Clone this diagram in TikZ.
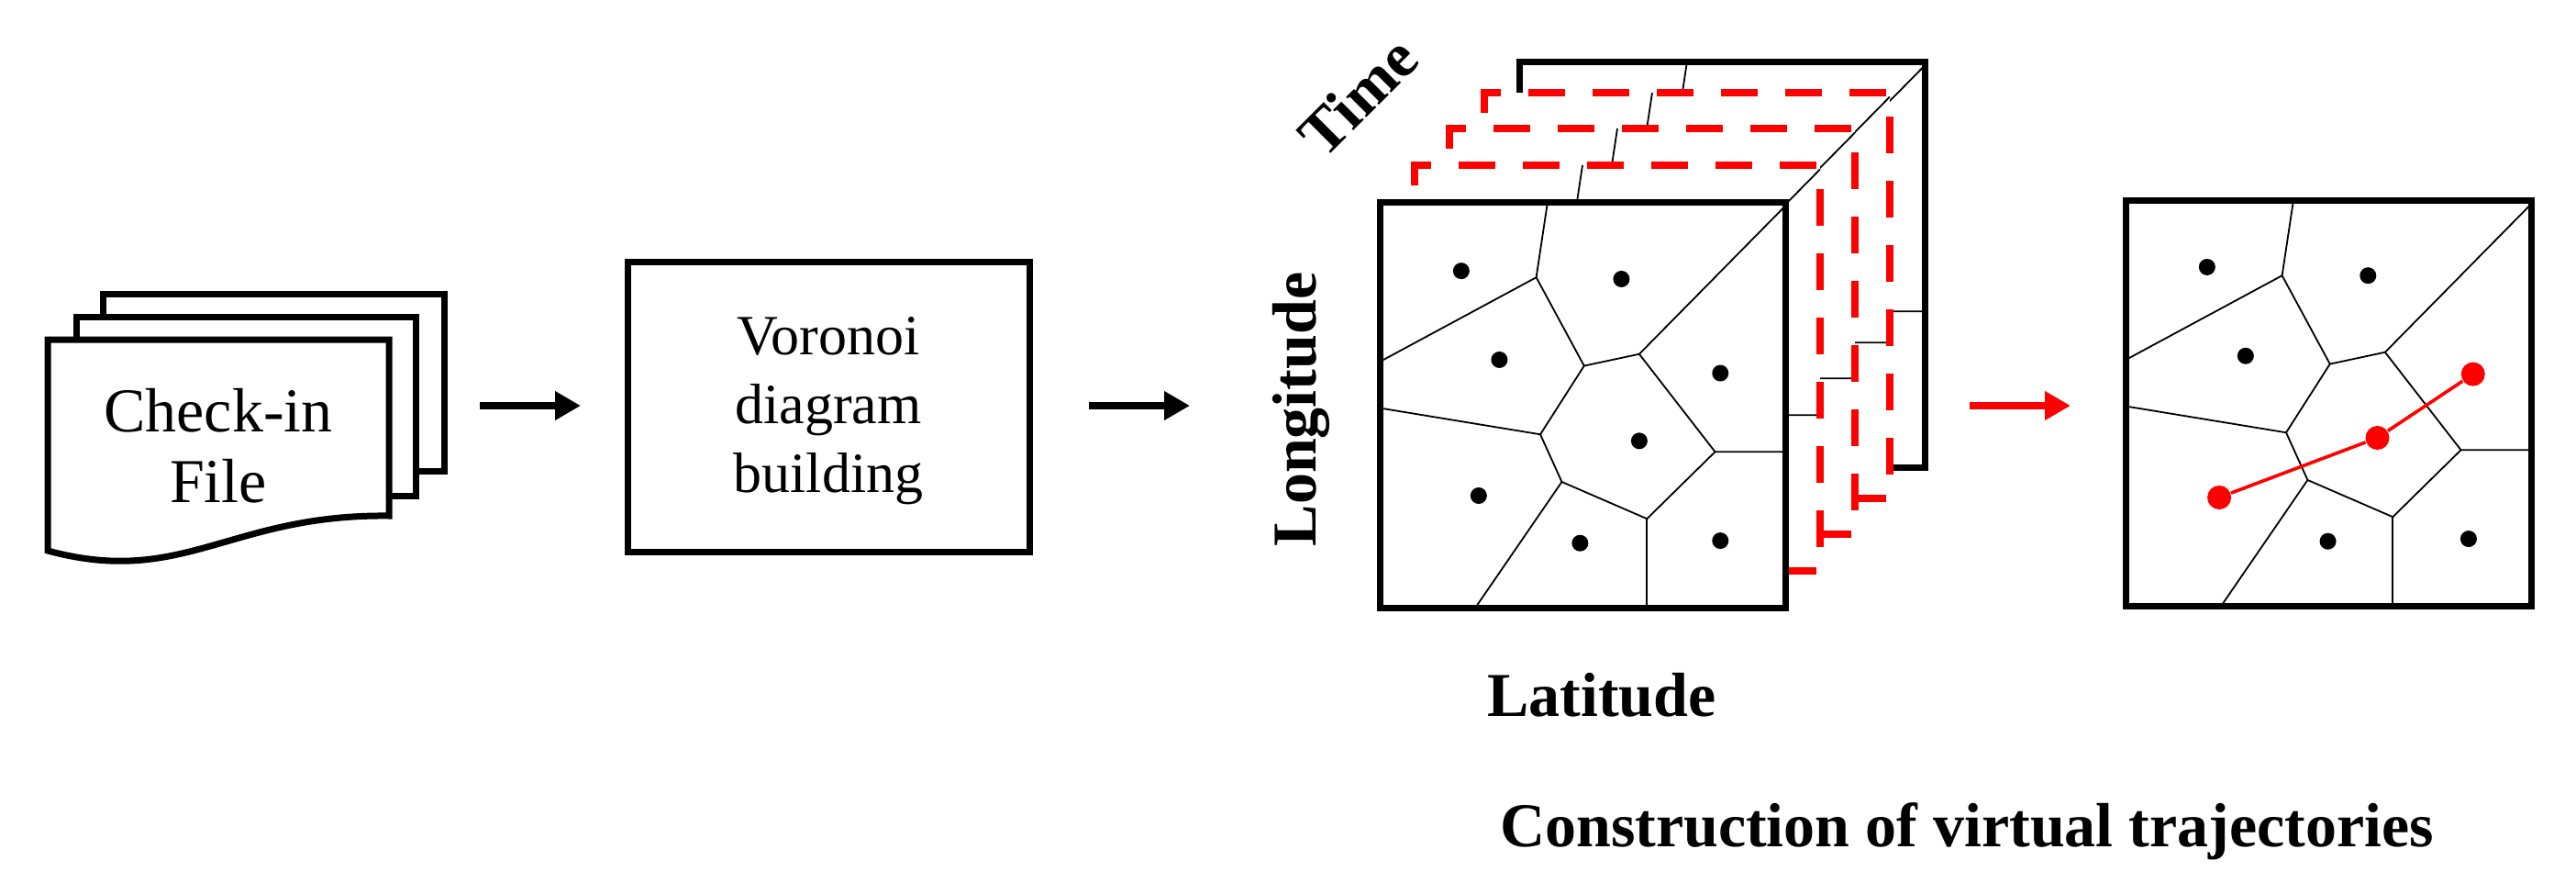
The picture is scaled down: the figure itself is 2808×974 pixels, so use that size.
\documentclass[tikz,border=0pt]{standalone}
\usepackage{fontspec}
\setmainfont{Liberation Serif}
\usetikzlibrary{arrows.meta}
\newcommand\vorlines{%
  \draw[vor] (0.414,0)--(0.386,0.186)--(0,0.394);
  \draw[vor] (0.386,0.186)--(0.504,0.404)--(0.640,0.375)--(1,0.01);
  \draw[vor] (0.640,0.375)--(0.827,0.616)--(1,0.616);
  \draw[vor] (0.504,0.404)--(0.396,0.573)--(0,0.508);
  \draw[vor] (0.396,0.573)--(0.449,0.69)--(0.659,0.781)--(0.827,0.616);
  \draw[vor] (0.449,0.69)--(0.236,1);
  \draw[vor] (0.659,0.781)--(0.659,1);}
\newcommand\vorlayer[3]{%
  \begin{scope}[shift={(#1,#2)},x=110.5pt,y=-110.5pt]
    \fill[white] (0,0) rectangle (1,1);
    \vorlines
    \draw[#3] (0,1) rectangle (1,0);
  \end{scope}}
\tikzset{
  vor/.style={line width=0.45pt},
  thickb/.style={line width=1.75pt},
  reddash/.style={red, line width=2pt, dash pattern=on 10pt off 7.5pt},
  arr/.style={line width=2pt,-{Triangle[length=7pt,width=7.5pt]}},
  dot/.style={circle, fill=black, inner sep=0pt, minimum size=4.5pt},
  rdot/.style={circle, fill=red, inner sep=0pt, minimum size=6.5pt},
  lab/.style={font=\fontsize{17}{20}\selectfont\bfseries},
}
\begin{document}
\begin{tikzpicture}[x=0.25pt,y=-0.25pt]
\useasboundingbox (0,0) rectangle (2808,974);
% documents
\draw[thickb, fill=white] (112,320) rectangle (484,513);
\draw[thickb, fill=white] (83,345) rectangle (453,540);
\draw[thickb, fill=white] (52,370) -- (424,370) -- (424,562) .. controls (250,560) and (200,640) .. (52,600) -- cycle;
\node[align=center, font=\fontsize{17}{19.25}\selectfont] (doc) at (238,486) {Check-in\\File};
% voronoi box
\draw[thickb] (684,285) rectangle (1122,601);
\node[align=center, font=\fontsize{15.5}{18.75}\selectfont] (vbox) at (903,448) {Voronoi\\diagram\\building};
\coordinate (a1s) at (523,442); \coordinate (a1e) at (633,442);
\coordinate (a2s) at (1187,442); \coordinate (a2e) at (1297,442);
\coordinate (a3s) at (2147,442); \coordinate (a3e) at (2257,442);
\draw[arr] (a1s) -- (a1e);
\draw[arr] (a2s) -- (a2e);
\draw[arr, red] (a3s) -- (a3e);
% cube
\vorlayer{1656}{67}{thickb}
\vorlayer{1618}{101}{reddash}
\vorlayer{1580}{140}{reddash}
\vorlayer{1542}{180}{reddash}
\begin{scope}[shift={(1504,220)},x=110.5pt,y=-110.5pt]
  \fill[white] (0,0) rectangle (1,1);
  \vorlines
  \foreach \p/\q in {0.201/0.170,0.596/0.19,0.295/0.389,0.840/0.422,0.640/0.589,0.244/0.724,0.494/0.841,0.840/0.835}
    \node[dot] at (\p,\q) {};
  \draw[thickb] (0,0) rectangle (1,1);
\end{scope}
\node[lab, rotate=45] (time) at (1480,105) {Time};
\node[lab, rotate=90] (lon) at (1418,446) {Longitude};
\node[lab] (lat) at (1746,757) {Latitude};
% right box
\begin{scope}[shift={(2317,218)},x=110.5pt,y=-110.5pt]
  \vorlines
  \foreach \p/\q in {0.201/0.165,0.598/0.186,0.296/0.384,0.499/0.841,0.846/0.835}
    \node[dot] at (\p,\q) {};
  \node[rdot] (r1) at (0.231,0.733) {};
  \node[rdot] (r2) at (0.621,0.586) {};
  \node[rdot] (r3) at (0.857,0.429) {};
  \draw[red, line width=0.9pt] (r1) -- (r2) -- (r3);
  \draw[thickb] (0,0) rectangle (1,1);
\end{scope}
\node[lab, anchor=base west] (cons) at (1621,922) {Construction of virtual trajectories};
\end{tikzpicture}
\end{document}
